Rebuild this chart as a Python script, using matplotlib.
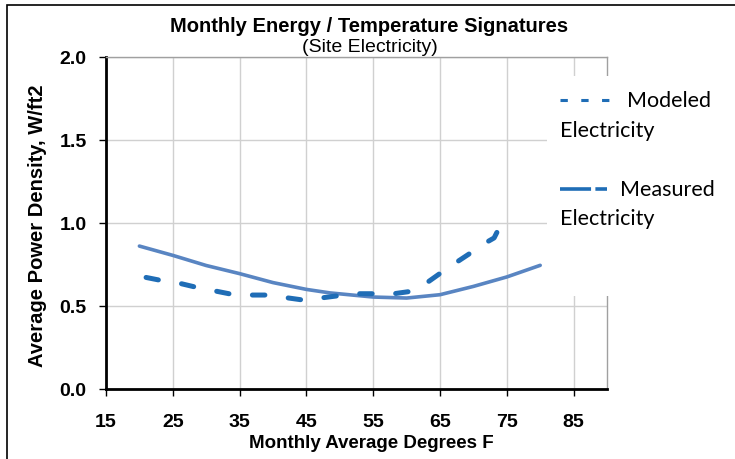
import matplotlib
matplotlib.use("Agg")
import matplotlib.pyplot as plt
from matplotlib.lines import Line2D
from matplotlib.patches import Rectangle

# smooth (modeled) curve
model_temp = [20, 25, 30, 35, 40, 45, 48.5, 55, 60, 65, 70, 75, 80]
model_power = [0.861, 0.805, 0.744, 0.695, 0.641, 0.600, 0.579, 0.554, 0.548, 0.568, 0.618, 0.675, 0.745]

# dashed (measured) curve
meas_temp = [21.0, 23.5, 26.2, 28.7, 31.4, 33.9, 36.6, 39.1, 42.0, 44.5, 47.5, 50.0, 52.5,
             55.1, 58.1, 60.6, 63.1, 65.1, 67.3, 69.6, 71.8, 73.1, 73.6]
meas_power = [0.672, 0.652, 0.635, 0.611, 0.590, 0.570, 0.566, 0.566, 0.550, 0.536, 0.550, 0.563, 0.574,
              0.574, 0.574, 0.588, 0.642, 0.699, 0.759, 0.820, 0.880, 0.910, 0.950]

x_ticks = [15, 25, 35, 45, 55, 65, 75, 85]
y_ticks = [0.0, 0.5, 1.0, 1.5, 2.0]

W, H = 735, 460
fig = plt.figure(figsize=(W / 100, H / 100), dpi=100)
ax = fig.add_axes([106 / W, 1 - 390 / H, (607 - 106) / W, (390 - 58) / H])

solid_col = "#5985c2"
dash_col = "#1f6db6"

ax.plot(model_temp, model_power, color=solid_col, lw=2.6, solid_capstyle="round",
        solid_joinstyle="round", zorder=3)
ax.plot(meas_temp, meas_power, color=dash_col, lw=3.6, dashes=(2.5, 4.7),
        dash_capstyle="round", dash_joinstyle="round", zorder=4)

ax.set_xlim(15, 90)
ax.set_ylim(0, 2.0)
ax.set_xticks(x_ticks)
ax.set_yticks(y_ticks)
ax.set_yticklabels([f"{v:.1f}" for v in y_ticks])
ax.grid(True, color="#d0d0d0", lw=1)
ax.set_axisbelow(True)

for s in ["left", "bottom"]:
    ax.spines[s].set_color("black")
    ax.spines[s].set_linewidth(2)
for s in ["top", "right"]:
    ax.spines[s].set_color("#a0a0a0")
    ax.spines[s].set_linewidth(1)

ax.tick_params(axis="both", direction="out", length=5, width=1, color="black")
ax.tick_params(axis="x", pad=12)
ax.tick_params(axis="y", pad=9)
for lab in ax.get_xticklabels() + ax.get_yticklabels():
    lab.set_fontfamily("Liberation Sans")
    lab.set_fontweight("bold")
    lab.set_fontsize(14)

# titles and axis labels
fig.text(369 / W, 1 - 27 / H, "Monthly Energy / Temperature Signatures", ha="center", va="center",
         fontfamily="Liberation Sans", fontweight="bold", fontsize=14.5)
fig.text(370 / W, 1 - 48 / H, "(Site Electricity)", ha="center", va="center",
         fontfamily="Liberation Sans", fontsize=14)
fig.text(371 / W, 1 - 444 / H, "Monthly Average Degrees F", ha="center", va="center",
         fontfamily="Liberation Sans", fontweight="bold", fontsize=13.5)
fig.text(38 / W, 1 - 226 / H, "Average Power Density, W/ft2", ha="center", va="center", rotation=90,
         fontfamily="Liberation Sans", fontweight="bold", fontsize=14.5)

# legend block (white box over the grid)
fig.patches.append(Rectangle((547 / W, 1 - 297 / H), (735 - 547) / W, (297 - 77) / H,
                             transform=fig.transFigure, facecolor="white", edgecolor="none", zorder=5))
leg_font = dict(fontfamily="Lato", fontsize=15.5, va="center", ha="left", zorder=6)
fig.lines.append(Line2D([560 / W, 613 / W], [1 - 101 / H] * 2, transform=fig.transFigure,
                        color=dash_col, lw=2.2, dashes=(2.4, 4.4), zorder=6))
fig.text(627 / W, 1 - 101 / H, "Modeled", **leg_font)
fig.text(560 / W, 1 - 131 / H, "Electricity", **leg_font)
fig.lines.append(Line2D([560 / W, 607 / W], [1 - 190 / H] * 2, transform=fig.transFigure,
                        color=dash_col, lw=2.6, dashes=(8.6, 1.2), zorder=6))
fig.text(620 / W, 1 - 190 / H, "Measured", **leg_font)
fig.text(560 / W, 1 - 219 / H, "Electricity", **leg_font)

# outer chart border (right and bottom edges fall outside the image)
fig.patches.append(Rectangle((7 / W, -0.1), 1.2, 1 - 6 / H + 0.1, transform=fig.transFigure,
                             facecolor="none", edgecolor="black", lw=1.2, zorder=7))

fig.savefig("out.png", dpi=100)
